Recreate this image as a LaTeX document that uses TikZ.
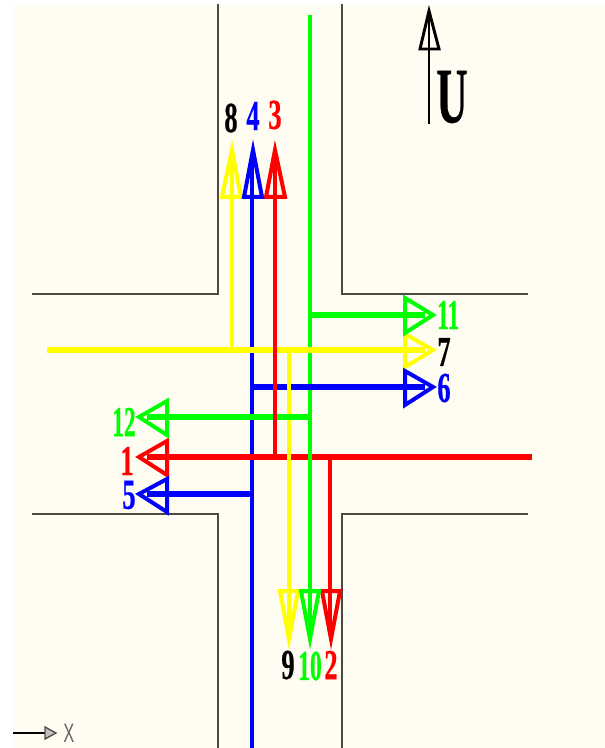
\documentclass[tikz,border=0pt]{standalone}
\usepackage{fontspec}
\setmainfont{Liberation Serif}
\newfontfamily\axisfont{Liberation Sans}
\newfontfamily\labfont[FakeBold=0.7]{Liberation Serif}
\definecolor{paper}{HTML}{FFFCF2}
\definecolor{roadline}{HTML}{4A4A42}
\definecolor{pgreen}{HTML}{00FF00}
\definecolor{pblue}{HTML}{0000FF}
\definecolor{pred}{HTML}{FF0000}
\definecolor{pyellow}{HTML}{FFFF00}
\tikzset{
  road/.style={draw=roadline,line width=0.9pt},
  shaft/.style={line width=2.4pt},
  thick shaft/.style={line width=3.8pt},
  headtri/.style={line width=3pt,line join=miter,miter limit=10},
  lab/.style={font=\fontsize{32}{32}\labfont\bfseries,xscale=0.62,inner sep=0pt},
  labwide/.style={font=\fontsize{32}{32}\labfont\bfseries,xscale=0.55,inner sep=0pt},
  bigU/.style={font=\fontsize{59}{59}\labfont\bfseries,xscale=0.55,inner sep=0pt},
}
\begin{document}
\begin{tikzpicture}[x=0.75pt,y=-0.75pt]
\useasboundingbox (0,0) rectangle (605,748);
\fill[paper] (13,4) rectangle (605,748);
% roads
\draw[road] (218,4) -- (218,294) -- (32,294);
\draw[road] (342,4) -- (342,294) -- (528,294);
\draw[road] (32,514) -- (218,514) -- (218,748);
\draw[road] (528,514) -- (342,514) -- (342,748);
% named points: each shaft runs on through its head
\coordinate (a8s) at (232,350);  \coordinate (a8b) at (232,160);
\coordinate (a4s) at (252,748);  \coordinate (a4b) at (252,160);
\coordinate (a3s) at (275,457);  \coordinate (a3b) at (275,160);
\coordinate (a9s) at (289,350);  \coordinate (a9b) at (289,630);
\coordinate (a10s) at (310,15);  \coordinate (a10b) at (310,630);
\coordinate (a2s) at (330,457);  \coordinate (a2b) at (330,630);
\coordinate (a11s) at (310,315); \coordinate (a11b) at (425,315);
\coordinate (a7s) at (47,350);   \coordinate (a7b) at (425,350);
\coordinate (a6s) at (252,387);  \coordinate (a6b) at (425,387);
\coordinate (a12s) at (310,417); \coordinate (a12b) at (147,417);
\coordinate (a1s) at (532,457);  \coordinate (a1b) at (147,457);
\coordinate (a5s) at (252,494);  \coordinate (a5b) at (147,494);
\coordinate (us) at (429,124);   \coordinate (ub) at (429,15);
\coordinate (xs) at (13,733);    \coordinate (xb) at (52,733);
% shafts, in the reference's stacking order
\draw[pblue,shaft] (a4s) -- (a4b);
\draw[pred,thick shaft] (a1s) -- (a1b);
\draw[pgreen,shaft] (a10s) -- (a10b);
\draw[pblue,thick shaft] (a6s) -- (a6b);
\draw[pblue,thick shaft] (a5s) -- (a5b);
\draw[pyellow,shaft] (a9s) -- (a9b);
\draw[pgreen,thick shaft] (a12s) -- (a12b);
\draw[pgreen,thick shaft] (a11s) -- (a11b);
\draw[pyellow,thick shaft] (a7s) -- (a7b);
\draw[pyellow,shaft] (a8s) -- (a8b);
\draw[pred,shaft] (a3s) -- (a3b);
\draw[pred,shaft] (a2s) -- (a2b);
% heads
\draw[pyellow,headtri] (222,197) -- (232,150) -- (241,197) -- cycle;
\draw[pyellow,headtri] (280,591) -- (289,639) -- (298,591) -- cycle;
\draw[pyellow,headtri] (405,334) -- (433,350) -- (405,367) -- cycle;
\draw[pred,headtri] (266,197) -- (275,150) -- (285,197) -- cycle;
\draw[pred,headtri] (322,591) -- (331,639) -- (340,591) -- cycle;
\draw[pred,headtri] (167,441) -- (139,457) -- (167,475) -- cycle;
\draw[pblue,headtri] (244,197) -- (253,150) -- (262,197) -- cycle;
\draw[pblue,headtri] (405,371) -- (433,387) -- (405,405) -- cycle;
\draw[pblue,headtri] (167,479) -- (139,494) -- (167,512) -- cycle;
\draw[pgreen,headtri] (301,591) -- (310,639) -- (319,591) -- cycle;
\draw[pgreen,headtri] (405,298) -- (433,315) -- (405,333) -- cycle;
\draw[pgreen,headtri] (167,401) -- (139,417) -- (167,435) -- cycle;
% U axis
\draw[black,line width=1.5pt] (us) -- (ub);
\draw[black,line width=2.2pt,line join=miter,miter limit=10] (420,49) -- (429,11) -- (439,49) -- cycle;
% X axis
\draw[black,line width=1.1pt] (xs) -- (xb);
\draw[black!70,line width=1pt,fill=black!25] (45,727) -- (56,733) -- (45,739) -- cycle;
\node[inner sep=0pt,text=black!60,font=\fontsize{20}{20}\axisfont,xscale=0.62] (xlab) at (69,733) {X};
% labels
\node[lab] (l8) at (231,118) {8};
\node[lab,text=pblue] (l4) at (253,116) {4};
\node[lab,text=pred] (l3) at (275,115) {3};
\node[bigU] (lU) at (452,97) {U};
\node[labwide,text=pgreen,anchor=west] (l11) at (437,315) {11};
\node[lab] (l7) at (444,352) {7};
\node[lab,text=pblue] (l6) at (444,388) {6};
\node[labwide,text=pgreen] (l12) at (124,422) {12};
\node[lab,text=pred] (l1) at (127,461) {1};
\node[lab,text=pblue] (l5) at (129,495) {5};
\node[lab] (l9) at (288,665) {9};
\node[labwide,text=pgreen] (l10) at (310,666) {10};
\node[lab,text=pred] (l2) at (331,665) {2};
\end{tikzpicture}
\end{document}
